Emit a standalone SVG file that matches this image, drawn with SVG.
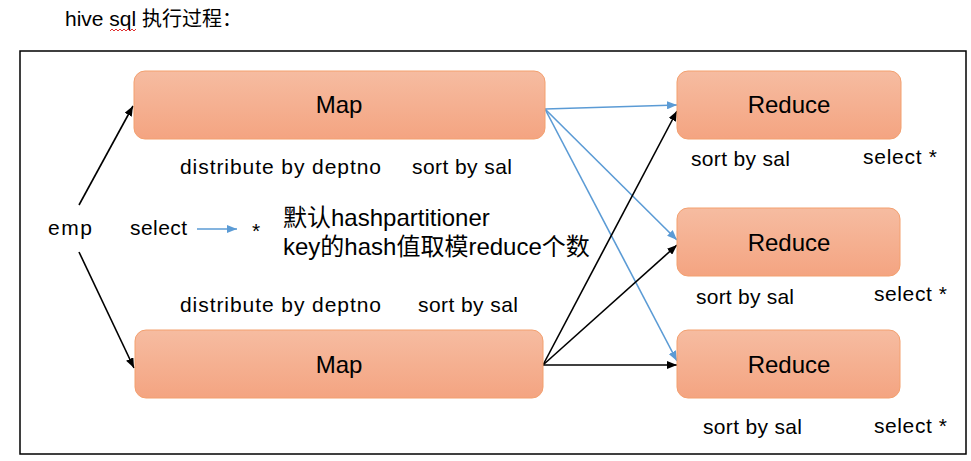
<svg xmlns="http://www.w3.org/2000/svg" width="971" height="461" viewBox="0 0 971 461">
<defs>
<linearGradient id="g" x1="0" y1="0" x2="0" y2="1">
<stop offset="0" stop-color="#F6BCA1"/>
<stop offset="1" stop-color="#F4A481"/>
</linearGradient>
<marker id="ab" viewBox="0 0 10 8" refX="10" refY="4" markerWidth="10" markerHeight="8" markerUnits="userSpaceOnUse" orient="auto">
<path d="M0,0 L10,4 L0,8 z" fill="#000"/>
</marker>
<marker id="au" viewBox="0 0 10 8" refX="10" refY="4" markerWidth="10" markerHeight="8" markerUnits="userSpaceOnUse" orient="auto">
<path d="M0,0 L10,4 L0,8 z" fill="#5B9BD5"/>
</marker>
<style>
.box{fill:url(#g);stroke:#F3A06F;stroke-width:1}
.t{font-family:"Liberation Sans",Arial,"Noto Sans CJK SC",sans-serif;fill:#000}
.big{font-size:24px;text-anchor:middle}
.s{font-size:21px}
.cjk{font-size:24px}
.k{stroke:#000;stroke-width:1.6;fill:none;marker-end:url(#ab)}
.b{stroke:#5B9BD5;stroke-width:1.6;fill:none;marker-end:url(#au)}
</style>
</defs>
<rect width="971" height="461" fill="#fff"/>
<text class="t s" x="65" y="26">hive sql <tspan font-family="'Noto Sans CJK SC',sans-serif" font-size="20">执行过程：</tspan></text>
<path d="M110,31 l2,-2 l2,2 l2,-2 l2,2 l2,-2 l2,2 l2,-2 l2,2 l2,-2 l2,2 l2,-2 l2,2 l2,-2" stroke="#E03030" stroke-width="1" fill="none"/>
<rect x="20" y="51" width="946" height="403" fill="none" stroke="#000" stroke-width="1.5"/>

<g id="connectors">
<line class="k" x1="79" y1="205" x2="133" y2="106"/>
<line class="k" x1="79" y1="252" x2="134" y2="368"/>
<line class="b" x1="545" y1="109" x2="677" y2="105"/>
<line class="b" x1="545" y1="109" x2="677" y2="240"/>
<line class="b" x1="545" y1="109" x2="677" y2="361"/>
<line class="k" x1="543" y1="365" x2="677" y2="111"/>
<line class="k" x1="543" y1="365" x2="677" y2="245"/>
<line class="k" x1="543" y1="365" x2="677" y2="365"/>
<line class="b" x1="197" y1="229" x2="237" y2="229"/>
</g>

<g id="map1">
<rect class="box" x="134" y="71" width="411" height="68" rx="11"/>
<text class="t big" x="339" y="113">Map</text>
</g>
<g id="map2">
<rect class="box" x="135" y="330" width="408" height="68" rx="11"/>
<text class="t big" x="339" y="373">Map</text>
</g>
<g id="reduce1">
<rect class="box" x="677" y="71" width="224" height="68" rx="11"/>
<text class="t big" x="789" y="113">Reduce</text>
</g>
<g id="reduce2">
<rect class="box" x="677" y="208" width="223" height="68" rx="11"/>
<text class="t big" x="789" y="251">Reduce</text>
</g>
<g id="reduce3">
<rect class="box" x="677" y="330" width="223" height="68" rx="11"/>
<text class="t big" x="789" y="373">Reduce</text>
</g>

<g id="labels">
<text class="t s" x="180" y="174" textLength="201">distribute by deptno</text>
<text class="t s" x="412" y="174" textLength="100">sort by sal</text>
<text class="t s" x="180" y="312" textLength="201">distribute by deptno</text>
<text class="t s" x="418" y="312" textLength="100">sort by sal</text>
<text class="t s" x="48" y="235" textLength="44">emp</text>
<text class="t s" x="130" y="235" textLength="57">select</text>
<text class="t s" x="252" y="238">*</text>
<text class="t cjk" x="283" y="226">默认hashpartitioner</text>
<text class="t cjk" x="283" y="255">key的hash值取模reduce个数</text>
<text class="t s" x="691" y="166" textLength="99">sort by sal</text>
<text class="t s" x="863" y="164" textLength="74">select *</text>
<text class="t s" x="696" y="304" textLength="98">sort by sal</text>
<text class="t s" x="874" y="301" textLength="73">select *</text>
<text class="t s" x="703" y="434" textLength="99">sort by sal</text>
<text class="t s" x="874" y="433" textLength="73">select *</text>
</g>
</svg>
